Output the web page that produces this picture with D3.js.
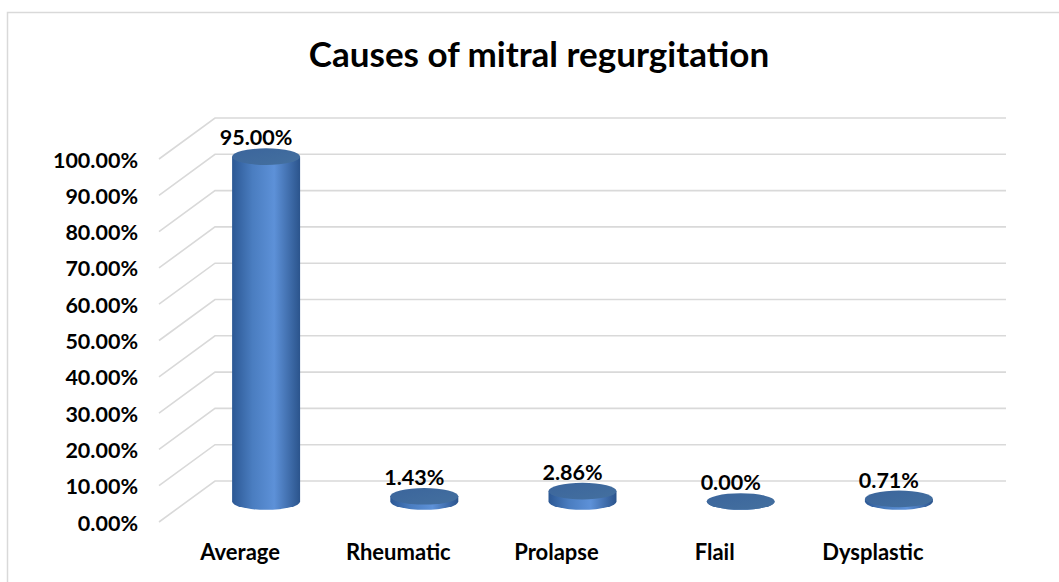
<!DOCTYPE html>
<html>
<head>
<meta charset="utf-8">
<script src="https://cdn.jsdelivr.net/npm/d3@7"></script>
<style>
  body { margin: 0; background: #fff; }
  svg { display: block; font-family: Lato, "Open Sans", sans-serif; }
</style>
</head>
<body>
<svg id="chart" width="1059" height="582"></svg>
<script>
const categories = ["Average", "Rheumatic", "Prolapse", "Flail", "Dysplastic"];
const values = [0.95, 0.0143, 0.0286, 0, 0.0071];
const valueLabels = ["95.00%", "1.43%", "2.86%", "0.00%", "0.71%"];
const yTicks = [0, 0.1, 0.2, 0.3, 0.4, 0.5, 0.6, 0.7, 0.8, 0.9, 1.0];

const svg = d3.select("#chart");

// 3D depth offset (front plane -> back wall)
const depthX = 56, depthY = -41;

// front plane scales
const x = d3.scaleBand()
    .domain(categories)
    .range([159, 950]);

const yFront = d3.scaleLinear()
    .domain([0, 1])
    .range([522, 159]);

const fmt = d3.format(".2%");

// outer border
svg.append("rect")
    .attr("x", 7.5).attr("y", 12.5)
    .attr("width", 1100).attr("height", 620)
    .attr("fill", "none")
    .attr("stroke", "#d9d9d9")
    .attr("stroke-width", 1.5);

// title
svg.append("text")
    .attr("x", 539).attr("y", 67)
    .attr("text-anchor", "middle")
    .style("font-size", "35px")
    .style("font-weight", "bold")
    .text("Causes of mitral regurgitation");

// gridlines: side wall diagonal + back wall
const grid = svg.append("g").attr("class", "grid");
yTicks.forEach(t => {
    const yf = yFront(t);
    const x0 = x.range()[0];
    const x1 = x.range()[1];
    grid.append("polyline")
        .attr("points", `${x0},${yf} ${x0 + depthX},${yf + depthY} ${x1 + depthX},${yf + depthY}`)
        .attr("fill", "none")
        .attr("stroke", "#d9d9d9")
        .attr("stroke-width", 1.6);
});

// y labels
svg.append("g")
    .selectAll("text")
    .data(yTicks)
    .enter()
    .append("text")
    .attr("x", 138)
    .attr("y", d => yFront(d) + 8.5)
    .attr("text-anchor", "end")
    .style("font-size", "21.5px")
    .style("font-weight", "bold")
    .text(d => fmt(d));

// x labels
svg.append("g")
    .selectAll("text")
    .data(categories)
    .enter()
    .append("text")
    .attr("x", d => x(d) + x.bandwidth() / 2 + 2)
    .attr("y", 560)
    .attr("text-anchor", "middle")
    .style("font-size", "22px")
    .style("font-weight", "bold")
    .text(d => d);

// gradients
const defs = svg.append("defs");
const bodyGrad = defs.append("linearGradient")
    .attr("id", "bodyGrad")
    .attr("x1", "0").attr("x2", "1").attr("y1", "0").attr("y2", "0");
bodyGrad.append("stop").attr("offset", "0%").attr("stop-color", "#2c5894");
bodyGrad.append("stop").attr("offset", "30%").attr("stop-color", "#4a7dc0");
bodyGrad.append("stop").attr("offset", "62%").attr("stop-color", "#5d91d8");
bodyGrad.append("stop").attr("offset", "100%").attr("stop-color", "#2b548c");

const topGrad = defs.append("linearGradient")
    .attr("id", "topGrad")
    .attr("x1", "0").attr("x2", "1").attr("y1", "0").attr("y2", "1");
topGrad.append("stop").attr("offset", "0%").attr("stop-color", "#3b659c");
topGrad.append("stop").attr("offset", "100%").attr("stop-color", "#44709f");

// cylinders sit half way into the depth
const midX = depthX / 2, midY = depthY / 2;
const rx = 34, ry = 8.3;

const bars = svg.append("g")
    .selectAll("g.bar")
    .data(categories.map((c, i) => ({cat: c, value: values[i], label: valueLabels[i]})))
    .enter()
    .append("g")
    .attr("class", "bar");

bars.append("path")
    .attr("d", d => {
        const cx = x(d.cat) + x.bandwidth() / 2 + midX;
        const yb = yFront(0) + midY;
        const yt = yFront(d.value) + midY;
        return `M${cx - rx},${yt} L${cx - rx},${yb} A${rx},${ry} 0 0 0 ${cx + rx},${yb} L${cx + rx},${yt} Z`;
    })
    .attr("fill", "url(#bodyGrad)");

bars.append("ellipse")
    .attr("cx", d => x(d.cat) + x.bandwidth() / 2 + midX)
    .attr("cy", d => yFront(d.value) + midY)
    .attr("rx", rx)
    .attr("ry", ry)
    .attr("fill", "url(#topGrad)");

bars.append("text")
    .attr("x", d => x(d.cat) + x.bandwidth() / 2 + midX - 10)
    .attr("y", d => yFront(d.value) + midY - ry - 3)
    .attr("text-anchor", "middle")
    .style("font-size", "21.5px")
    .style("font-weight", "bold")
    .text(d => d.label);
</script>
</body>
</html>
